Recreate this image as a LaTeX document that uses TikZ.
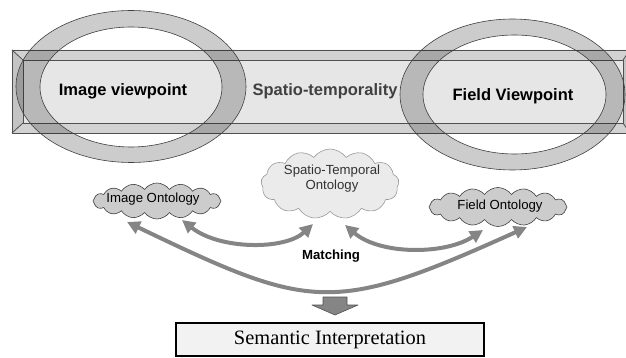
\documentclass[tikz,border=0pt]{standalone}
\usepackage{fontspec}
\newfontfamily\arialf{Liberation Sans}
\newfontfamily\timesf{Liberation Serif}
\usetikzlibrary{shapes.symbols,arrows.meta}
\definecolor{barface}{HTML}{E6E6E6}
\definecolor{bevelh}{HTML}{D2D2D2}
\definecolor{bevelv}{HTML}{C4C4C4}
\definecolor{lineg}{HTML}{505050}
\definecolor{arrowg}{HTML}{858585}
\definecolor{cloudd}{HTML}{CCCCCC}
\definecolor{cloudl}{HTML}{EBEBEB}
\definecolor{boxfill}{HTML}{F2F2F2}
\tikzset{
  bevel/.style={draw=lineg,line width=0.8pt,line join=round},
  ring/.style={fill=black,fill opacity=0.2,even odd rule,draw=black!75,draw opacity=1,line width=0.6pt},
  vptext/.style={font=\arialf\bfseries\fontsize{16.5}{18}\selectfont,inner sep=0pt},
  onto/.style={cloud,cloud puff arc=110,draw=black!75,line width=0.6pt,inner sep=0pt},
  ontotext/.style={font=\arialf\fontsize{13.2}{14.5}\selectfont,align=center,inner sep=0pt},
  matcharrow/.style={draw=arrowg,line width=4pt,
    {Triangle[length=13pt,width=13pt]}-{Triangle[length=13pt,width=13pt]}},
  semobox/.style={draw=black,line width=2.5pt,fill=boxfill,minimum width=308pt,minimum height=33pt,
    font=\timesf\fontsize{20.4}{22}\selectfont,inner sep=0pt}
}
\begin{document}
\begin{tikzpicture}[x=1pt,y=-1pt]
\useasboundingbox (0,0) rectangle (626,358);
\clip (0,0) rectangle (626,358);
% bevelled bar
\fill[bevelh] (12,50) -- (630,50) -- (623,60) -- (23,60) -- cycle;
\fill[bevelh] (12,133) -- (630,133) -- (623,123) -- (23,123) -- cycle;
\fill[bevelv] (12,50) -- (23,60) -- (23,123) -- (12,133) -- cycle;
\fill[bevelv] (630,50) -- (623,60) -- (623,123) -- (630,133) -- cycle;
\fill[barface] (23,60) rectangle (623,123);
\draw[bevel] (12,50) rectangle (630,133);
\draw[bevel] (23,60) rectangle (623,123);
\draw[bevel] (12,50) -- (23,60) (12,133) -- (23,123) (630,50) -- (623,60) (630,133) -- (623,123);
% rings
\path[ring] (131,86.5) ellipse [x radius=115pt,y radius=76pt]
            (131,87) ellipse [x radius=91pt,y radius=60pt];
\path[ring] (512.5,94.5) ellipse [x radius=112.5pt,y radius=75.5pt]
            (514.5,94.5) ellipse [x radius=91.5pt,y radius=59.5pt];
% texts in bar
\node[vptext] (imgvp) at (123,91) {Image viewpoint};
\node[vptext,text=black!75] (spt) at (325,91) {Spatio-temporality};
\node[vptext] (fldvp) at (513,96) {Field Viewpoint};
% clouds
\node[onto,fill=cloudd,cloud puffs=16,aspect=3.6,minimum width=128pt,minimum height=36pt] (imgonto) at (157,201) {};
\node[ontotext] (imgontot) at (153,199) {Image Ontology};
\node[onto,fill=cloudl,draw=black!40,cloud puffs=13,aspect=2.0,minimum width=138pt,minimum height=70pt] (stonto) at (330,184) {};
\node[ontotext,text=black!80] (stontot) at (332,178.5) {Spatio-Temporal\\Ontology};
\node[onto,fill=cloudd,cloud puffs=16,aspect=3.5,minimum width=138pt,minimum height=39pt] (fldonto) at (498,207) {};
\node[ontotext] (fldontot) at (500,206) {Field Ontology};
% arrow end points
\coordinate (aL) at (127,222);
\coordinate (aR) at (527,227);
\coordinate (bL) at (182,220);
\coordinate (bR) at (313,224);
\coordinate (cL) at (345,225);
\coordinate (cR) at (483,230);
\draw[matcharrow] (aL) .. controls (312,311) and (332,315) .. (aR);
\draw[matcharrow] (bL) .. controls (220,250) and (285,250) .. (bR);
\draw[matcharrow] (cL) .. controls (380,255) and (445,255) .. (cR);
\node[font=\arialf\bfseries\fontsize{13.2}{14.5}\selectfont,inner sep=0pt] (match) at (331,256) {Matching};
% block arrow down
\filldraw[fill=arrowg,draw=lineg,line width=0.6pt,line join=round]
  (323,297) -- (347,297) -- (347,305) -- (358,305) -- (335,315) -- (312,305) -- (323,305) -- cycle;
% result box
\node[semobox] (sem) at (330,339.5) {Semantic Interpretation};
\end{tikzpicture}
\end{document}
